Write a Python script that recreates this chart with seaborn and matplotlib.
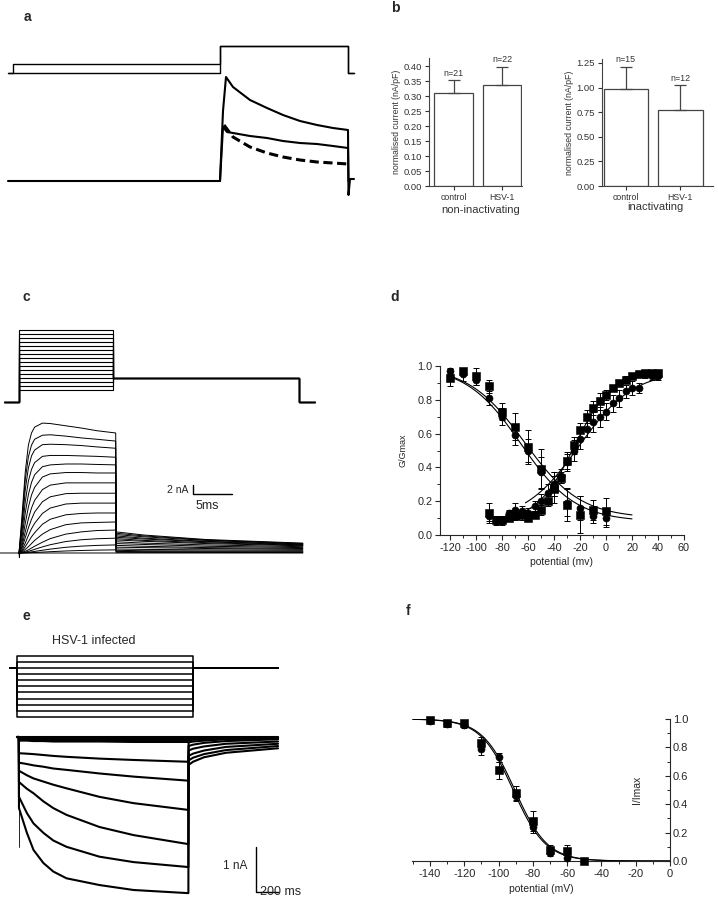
import numpy as np
import matplotlib
matplotlib.use("Agg")
import matplotlib.pyplot as plt
from matplotlib.ticker import MultipleLocator, FormatStrFormatter
import pandas as pd
import seaborn as sns

# ---------------- panel a : prepulse protocol and currents ----------------
a_cmd_t = [0, 5, 5, 212, 212, 340, 340, 346]
a_cmd_prepulse_v = [-100, -100, -60, -60, 20, 20, -100, -100]
a_cmd_hold_v = [-100, -100, -100, -100, 20, 20, -100, -100]

a_t_top = [0, 212, 215, 218, 225, 242, 259, 275, 292, 309, 325, 340, 340.5, 342, 346]
a_i_top = [0, 0, 3.5, 5.2, 4.7, 4.05, 3.65, 3.3, 3.0, 2.8, 2.65, 2.55, -0.7, 0.1, 0.1]
a_t_mid = [212, 215, 219, 225, 242, 259, 275, 292, 309, 325, 340, 340.5]
a_i_mid = [0, 2.7, 2.45, 2.4, 2.25, 2.15, 2.0, 1.9, 1.85, 1.75, 1.65, 0]
a_t_dash = [216, 225, 242, 259, 275, 292, 309, 325, 340]
a_i_dash = [2.8, 2.2, 1.7, 1.4, 1.2, 1.05, 0.95, 0.9, 0.85]

# ---------------- panel b : current densities ----------------
b_groups = ['control', 'HSV-1']
b_noninact_mean = [0.311, 0.338]
b_noninact_sem = [0.041, 0.060]
b_noninact_n = ['n=21', 'n=22']
b_inact_mean = [0.983, 0.772]
b_inact_sem = [0.229, 0.251]
b_inact_n = ['n=15', 'n=12']

# ---------------- panel c : activation family ----------------
c_hold_mv = -80
c_tail_mv = -20
c_levels_mv = [-50, -40, -30, -20, -10, 0, 10, 20, 30, 40, 50, 60, 70, 80, 90, 100]
c_cmd_t = [-1.9, 0, 0, 12, 12, 35.9, 35.9, 38]

c_t_step = [0, 0.4, 0.8, 1.2, 1.6, 2, 3, 4, 6, 8, 10, 12.4]
c_i_step = [
    [0, 8.7, 18.0, 24.0, 26.7, 28.0, 28.9, 28.8, 28.3, 27.8, 27.2, 26.7],
    [0, 7.6, 16.3, 21.4, 24.0, 25.3, 26.2, 26.3, 26.0, 25.6, 25.3, 24.9],
    [0, 6.3, 14.1, 18.9, 21.6, 22.9, 24.1, 24.2, 24.1, 23.9, 23.6, 23.3],
    [0, 4.9, 11.4, 16.0, 18.6, 20.1, 21.5, 21.7, 21.7, 21.6, 21.5, 21.3],
    [0, 3.6, 8.9, 13.0, 15.7, 17.4, 19.2, 19.6, 19.8, 19.8, 19.7, 19.6],
    [0, 2.5, 6.6, 10.2, 12.9, 14.6, 16.9, 17.6, 17.9, 17.9, 17.8, 17.8],
    [0, 1.7, 4.7, 7.6, 10.0, 11.7, 14.1, 15.1, 15.6, 15.6, 15.6, 15.6],
    [0, 1.2, 3.4, 5.6, 7.5, 9.1, 11.4, 12.5, 13.2, 13.3, 13.3, 13.3],
    [0, 0.7, 2.2, 3.9, 5.4, 6.6, 8.8, 10.0, 10.9, 11.1, 11.1, 11.1],
    [0, 0.4, 1.4, 2.5, 3.6, 4.5, 6.4, 7.5, 8.5, 8.8, 8.9, 8.9],
    [0, 0.2, 0.8, 1.4, 2.1, 2.8, 4.2, 5.2, 6.3, 6.7, 6.8, 6.9],
    [0, 0.1, 0.4, 0.7, 1.1, 1.5, 2.4, 3.2, 4.2, 4.7, 5.0, 5.1],
    [0, 0.05, 0.19, 0.37, 0.58, 0.81, 1.36, 1.84, 2.55, 2.95, 3.17, 3.3],
    [0, 0.02, 0.08, 0.15, 0.25, 0.35, 0.61, 0.86, 1.27, 1.53, 1.69, 1.8],
    [0, 0.01, 0.02, 0.05, 0.08, 0.11, 0.2, 0.29, 0.45, 0.56, 0.64, 0.7],
]
c_t_tail = [12.45, 16, 24, 36.4]
c_i_tail = [
    [4.7, 4.0, 3.0, 2.2], [4.4, 3.8, 2.9, 2.1], [4.1, 3.6, 2.8, 2.0],
    [3.8, 3.3, 2.6, 1.9], [3.5, 3.1, 2.5, 1.8], [3.2, 2.8, 2.3, 1.7],
    [2.9, 2.6, 2.1, 1.6], [2.5, 2.2, 1.8, 1.4], [2.1, 1.9, 1.5, 1.2],
    [1.7, 1.5, 1.2, 1.0], [1.3, 1.2, 1.0, 0.8], [0.9, 0.8, 0.7, 0.6],
    [0.6, 0.5, 0.45, 0.4], [0.35, 0.3, 0.28, 0.25], [0.15, 0.13, 0.12, 0.1],
]
c_base_t = [-2.44, 0, 0.05, 0.15, 0.3, 36.4]
c_base_i = [0, 0, -1.0, 1.2, 0, 0]
c_bar_nA, c_bar_ms = 2, 5

# ---------------- panel d : activation / inactivation ----------------
d_v_inact = [-120, -110, -100, -90, -80, -70, -60, -50, -40, -30, -20, -10, 0]
d_inact_sq = [0.93, 0.97, 0.94, 0.88, 0.73, 0.64, 0.52, 0.39, 0.28, 0.18, 0.12, 0.15, 0.14]
d_inact_sq_err = [0.05, 0.02, 0.05, 0.04, 0.05, 0.08, 0.10, 0.12, 0.09, 0.10, 0.11, 0.06, 0.08]
d_inact_ci = [0.97, 0.95, 0.92, 0.81, 0.70, 0.59, 0.50, 0.37, 0.29, 0.19, 0.16, 0.11, 0.10]
d_inact_ci_err = [0.02, 0.04, 0.03, 0.04, 0.05, 0.06, 0.07, 0.09, 0.06, 0.08, 0.07, 0.04, 0.05]

d_v_act = [-90, -85, -80, -75, -70, -65, -60, -55, -50, -45, -40, -35, -30, -25,
           -20, -15, -10, -5, 0, 5, 10, 15, 20, 25, 30, 35, 40]
d_act_sq = [0.13, 0.09, 0.09, 0.10, 0.11, 0.12, 0.10, 0.12, 0.15, 0.20, 0.27, 0.34, 0.44, 0.53,
            0.62, 0.70, 0.75, 0.79, 0.83, 0.87, 0.90, 0.92, 0.94, 0.95, 0.96, 0.96, 0.96]
d_act_sq_err = [0.06, 0.02, 0.02, 0.02, 0.02, 0.03, 0.02, 0.02, 0.03, 0.03, 0.04, 0.03, 0.05, 0.05,
                0.04, 0.04, 0.04, 0.05, 0.03, 0.02, 0.02, 0.02, 0.01, 0.01, 0.01, 0.01, 0.01]
d_act_ci = [0.11, 0.08, 0.08, 0.13, 0.15, 0.14, 0.13, 0.17, 0.20, 0.25, 0.30, 0.35, 0.43, 0.50,
            0.57, 0.63, 0.67, 0.70, 0.73, 0.78, 0.81, 0.85, 0.87, 0.87, 0.95, 0.94, 0.94]
d_act_ci_err = [0.03, 0.02, 0.02, 0.02, 0.04, 0.03, 0.03, 0.03, 0.04, 0.05, 0.07, 0.04, 0.05, 0.06,
                0.06, 0.05, 0.06, 0.06, 0.05, 0.05, 0.05, 0.04, 0.04, 0.03, 0.02, 0.02, 0.02]
# Boltzmann fits (V1/2, slope, bottom, top)
d_fit_inact = [(-62.8, 21.6, 0.10, 1.0), (-65.5, 21.0, 0.08, 1.0)]
d_fit_act = [(-24.4, 14.5, 0.08, 0.97), (-20.9, 21.0, 0.08, 0.97)]

# ---------------- panel e : HSV-1 infected, hyperpolarising steps ----------------
e_hold_mv = -40
e_levels_mv = [-20, -30, -40, -50, -60, -70, -80, -90, -100, -110, -120]
e_cmd_t = [-64, 0, 0, 1600, 1600, 2373]
e_t_pulse = [18, 90, 150, 240, 330, 450, 750, 1060, 1558]
e_i_pulse = [
    [0, 0, 0, 0, 0, 0, 0, 0, 0],
    [-0.02, -0.02, -0.02, -0.03, -0.03, -0.03, -0.03, -0.04, -0.04],
    [-0.04, -0.04, -0.04, -0.05, -0.05, -0.05, -0.06, -0.06, -0.06],
    [-0.06, -0.06, -0.07, -0.07, -0.07, -0.08, -0.08, -0.09, -0.09],
    [-0.08, -0.08, -0.09, -0.09, -0.1, -0.1, -0.1, -0.11, -0.11],
    [-0.36, -0.37, -0.38, -0.40, -0.42, -0.44, -0.48, -0.51, -0.55],
    [-0.57, -0.60, -0.63, -0.66, -0.70, -0.73, -0.81, -0.88, -0.97],
    [-0.75, -0.85, -0.92, -0.99, -1.06, -1.14, -1.33, -1.47, -1.62],
    [-1.00, -1.15, -1.25, -1.43, -1.58, -1.73, -2.00, -2.18, -2.38],
    [-1.33, -1.69, -1.92, -2.13, -2.30, -2.44, -2.66, -2.78, -2.89],
    [-1.58, -2.13, -2.51, -2.80, -2.99, -3.14, -3.29, -3.40, -3.47],
]
e_t_tail = [1560, 1600, 1700, 1900, 2373]
e_i_tail = [
    [0, 0, 0, 0, 0],
    [-0.02, -0.02, -0.02, -0.01, -0.01],
    [-0.04, -0.03, -0.03, -0.02, -0.02],
    [-0.05, -0.05, -0.04, -0.03, -0.02],
    [-0.07, -0.06, -0.05, -0.04, -0.03],
    [-0.12, -0.10, -0.08, -0.05, -0.02],
    [-0.20, -0.17, -0.13, -0.09, -0.05],
    [-0.30, -0.26, -0.21, -0.15, -0.10],
    [-0.42, -0.37, -0.30, -0.22, -0.15],
    [-0.52, -0.46, -0.38, -0.29, -0.20],
    [-0.62, -0.55, -0.45, -0.35, -0.25],
]
e_spike_t, e_spike_i = 19, -2.45
e_bar_nA, e_bar_ms = 1, 200

# ---------------- panel f : steady-state activation ----------------
f_v_sq = [-140, -130, -120, -110, -100, -90, -80, -70, -60, -50]
f_sq = [0.99, 0.975, 0.975, 0.83, 0.64, 0.48, 0.28, 0.08, 0.07, 0.0]
f_sq_err = [0.01, 0.02, 0.02, 0.04, 0.06, 0.05, 0.07, 0.03, 0.04, 0.01]
f_v_ci = [-140, -130, -120, -110, -100, -90, -80, -70, -60]
f_ci = [0.985, 0.965, 0.955, 0.79, 0.73, 0.46, 0.24, 0.055, 0.02]
f_ci_err = [0.01, 0.02, 0.02, 0.04, 0.03, 0.04, 0.04, 0.02, 0.02]
f_fits = [(-91.5, 9.5), (-90.5, 9.5)]

# ---------------- drawing ----------------
sns.set_theme(style="ticks")
plt.rcParams['font.family'] = ['Liberation Sans', 'DejaVu Sans']
plt.rcParams['axes.linewidth'] = 0.8
plt.rcParams['axes.unicode_minus'] = False

W, H = 718, 899
fig = plt.figure(figsize=(W / 100, H / 100), dpi=100)


def px_axes(x0, y0, x1, y1):
    return fig.add_axes([x0 / W, 1 - y1 / H, (x1 - x0) / W, (y1 - y0) / H])


def draw_traces(ax, traces, lw):
    df = pd.concat([pd.DataFrame({'t': t, 'y': y, 'unit': k}) for k, (t, y) in enumerate(traces)])
    sns.lineplot(data=df, x='t', y='y', units='unit', estimator=None, sort=False,
                 color='black', linewidth=lw, ax=ax, legend=False)


# panel a
ax = px_axes(0, 40, 360, 80)
draw_traces(ax, [(a_cmd_t, a_cmd_prepulse_v), (a_cmd_t, a_cmd_hold_v)], 1.0)
ax.set_xlim(-8, 352)
ax.set_ylim(-131.1, 46.5)
ax.axis('off')

ax = px_axes(0, 70, 360, 205)
sns.lineplot(x=a_t_top, y=a_i_top, sort=False, color='black', linewidth=1.5, ax=ax)
sns.lineplot(x=a_t_mid, y=a_i_mid, sort=False, color='black', linewidth=1.5, ax=ax)
sns.lineplot(x=a_t_dash, y=a_i_dash, sort=False, color='black', linewidth=2.2,
             linestyle=(0, (3, 1.5)), ax=ax)
ax.set_xlim(-8, 352)
ax.set_ylim(-1.2, 5.55)
ax.axis('off')


# panel b
def bar_panel(rect, means, sems, ns, ymax, ystep, xlim, width, xlabel, xlabel_xy):
    ax = px_axes(*rect)
    df = pd.DataFrame({'group': b_groups, 'current': means})
    sns.barplot(data=df, x='group', y='current', color='white', edgecolor='#444444',
                linewidth=0.9, width=width, errorbar=None, ax=ax)
    ax.errorbar([0, 1], means, yerr=[[0, 0], sems], fmt='none', ecolor='#444444',
                elinewidth=0.9, capsize=4.5, capthick=0.9, zorder=3)
    for i in range(2):
        ax.annotate(ns[i], (i, means[i] + sems[i]), xytext=(0, 2), textcoords='offset points',
                    ha='center', va='bottom', fontsize=6.4, color='#333333')
    ax.set_xlim(*xlim)
    ax.set_ylim(0, ymax)
    ax.yaxis.set_major_locator(MultipleLocator(ystep))
    ax.yaxis.set_major_formatter(FormatStrFormatter('%.2f'))
    ax.tick_params(axis='y', labelsize=6.8, length=3, width=0.8, pad=2, colors='#333333')
    ax.tick_params(axis='x', labelsize=6.3, length=3, width=0.8, pad=2, colors='#333333')
    ax.set_ylabel('normalised current (nA/pF)', fontsize=6.3, labelpad=2, color='#333333')
    ax.set_xlabel(xlabel, fontsize=8, color='#333333')
    ax.xaxis.set_label_coords(*xlabel_xy)
    for s in ax.spines.values():
        s.set_color('#444444')
    sns.despine(ax=ax)


bar_panel((429, 58, 522, 186), b_noninact_mean, b_noninact_sem, b_noninact_n,
          0.427, 0.05, (-0.505, 1.406), 0.79, 'non-inactivating', (0.56, -0.148))
bar_panel((602, 59, 713, 186), b_inact_mean, b_inact_sem, b_inact_n,
          1.29, 0.25, (-0.44, 1.6), 0.82, 'inactivating', (0.477, -0.124))

# panel c
ax = px_axes(0, 320, 320, 410)
cmd_traces = [(c_cmd_t, [c_hold_mv, c_hold_mv, lv, lv, c_tail_mv, c_tail_mv, c_hold_mv, c_hold_mv])
              for lv in c_levels_mv]
draw_traces(ax, cmd_traces, 0.8)
ax.set_xlim(-2.44, 38.6)
ax.set_ylim(-100, 125)
ax.axis('off')

ax = px_axes(0, 415, 320, 565)
cur_traces = [(c_base_t, c_base_i)]
for step, tail in zip(c_i_step, c_i_tail):
    cur_traces.append((c_t_step + c_t_tail, step + tail))
draw_traces(ax, cur_traces, 0.7)
bx, by = 22.3, 13.1
ax.plot([bx, bx, bx + c_bar_ms], [by + c_bar_nA, by, by], color='black', lw=1.0)
ax.text(bx - 0.6, by + c_bar_nA / 2, '2 nA', ha='right', va='center', fontsize=7.5)
ax.text(bx + 1.9, by - 2.7, '5ms', ha='center', va='center', fontsize=9)
ax.set_xlim(-2.44, 38.6)
ax.set_ylim(-2.67, 30.7)
ax.axis('off')

# panel d
ax = px_axes(440, 366, 684, 535)
for v, g, err, mk in [(d_v_inact, d_inact_sq, d_inact_sq_err, 's'),
                      (d_v_inact, d_inact_ci, d_inact_ci_err, 'o'),
                      (d_v_act, d_act_sq, d_act_sq_err, 's'),
                      (d_v_act, d_act_ci, d_act_ci_err, 'o')]:
    ax.errorbar(v, g, yerr=err, fmt='none', ecolor='black', elinewidth=0.7,
                capsize=2.5, capthick=0.7, zorder=2)
    sns.scatterplot(x=v, y=g, marker=mk, s=26, color='black', edgecolor='black',
                    ax=ax, zorder=3, clip_on=False)
v_in = np.linspace(-120, 20, 200)
for vh, k, bot, top in d_fit_inact:
    sns.lineplot(x=v_in, y=bot + (top - bot) / (1 + np.exp((v_in - vh) / k)),
                 color='black', linewidth=0.8, ax=ax)
v_ac = np.linspace(-62, 40, 200)
for vh, k, bot, top in d_fit_act:
    sns.lineplot(x=v_ac, y=bot + (top - bot) / (1 + np.exp((vh - v_ac) / k)),
                 color='black', linewidth=0.8, ax=ax)
ax.set_xlim(-127.7, 60)
ax.set_ylim(0, 1.0)
ax.xaxis.set_major_locator(MultipleLocator(20))
ax.xaxis.set_minor_locator(MultipleLocator(10))
ax.yaxis.set_major_locator(MultipleLocator(0.2))
ax.yaxis.set_minor_locator(MultipleLocator(0.1))
ax.yaxis.set_major_formatter(FormatStrFormatter('%.1f'))
ax.tick_params(which='major', labelsize=7.8, length=3.5, width=0.8, pad=2)
ax.tick_params(which='minor', length=2, width=0.7)
ax.set_xlabel('potential (mv)', fontsize=7.5, labelpad=3)
ax.set_ylabel('G/Gmax', fontsize=6.5, labelpad=7)
sns.despine(ax=ax)

# panel e
ax = px_axes(0, 645, 320, 725)
cmd_traces = [(e_cmd_t, [e_hold_mv, e_hold_mv, lv, lv, e_hold_mv, e_hold_mv]) for lv in e_levels_mv]
draw_traces(ax, cmd_traces, 1.1)
ax.set_xlim(-154.5, 2754.5)
ax.set_ylim(-133.4, -2.3)
ax.axis('off')

ax = px_axes(0, 730, 320, 899)
cur_traces = []
for pulse, tail in zip(e_i_pulse, e_i_tail):
    cur_traces.append(([0, 17] + e_t_pulse + e_t_tail, [0, 0] + pulse + tail))
draw_traces(ax, cur_traces, 1.5)
ax.plot([e_spike_t, e_spike_t], [0, e_spike_i], color='black', lw=0.6)
bx, by = 2173, -3.44
ax.plot([bx, bx, bx + e_bar_ms], [by + e_bar_nA, by, by], color='black', lw=1.0)
ax.text(bx - 80, by + 0.57, '1 nA', ha='right', va='center', fontsize=8.6)
ax.text(bx + 36, -3.585, '200 ms', ha='left', va='bottom', fontsize=9)
ax.set_xlim(-154.5, 2754.5)
ax.set_ylim(-3.6, 0.156)
ax.axis('off')
fig.text(52 / W, 1 - 641 / H, 'HSV-1 infected', ha='left', va='center', fontsize=9)

# panel f
ax = px_axes(412, 719, 670, 861)
for v, g, err, mk in [(f_v_sq, f_sq, f_sq_err, 's'), (f_v_ci, f_ci, f_ci_err, 'o')]:
    ax.errorbar(v, g, yerr=err, fmt='none', ecolor='black', elinewidth=0.7,
                capsize=2.5, capthick=0.7, zorder=2)
    sns.scatterplot(x=v, y=g, marker=mk, s=26, color='black', edgecolor='black',
                    ax=ax, zorder=3, clip_on=False)
v_f = np.linspace(-150, 0, 300)
for vh, k in f_fits:
    sns.lineplot(x=v_f, y=1 / (1 + np.exp((v_f - vh) / k)), color='black', linewidth=0.8, ax=ax)
ax.set_xlim(-150.5, 0)
ax.set_ylim(0, 1.0)
ax.spines['left'].set_visible(False)
ax.spines['top'].set_visible(False)
ax.yaxis.tick_right()
ax.xaxis.set_major_locator(MultipleLocator(20))
ax.xaxis.set_minor_locator(MultipleLocator(10))
ax.yaxis.set_major_locator(MultipleLocator(0.2))
ax.yaxis.set_minor_locator(MultipleLocator(0.1))
ax.yaxis.set_major_formatter(FormatStrFormatter('%.1f'))
ax.tick_params(which='major', labelsize=8, length=3.5, width=0.8, pad=2)
ax.tick_params(which='minor', length=2, width=0.7)
ax.tick_params(axis='y', which='both', direction='in')
ax.set_xlabel('potential (mV)', fontsize=7.5, labelpad=4)
ax.set_ylabel('I/Imax', fontsize=7.5)
ax.yaxis.set_label_position('left')
ax.yaxis.set_label_coords(0.891, 0.5)

# panel letters
for lab, x, y in [('a', 27, 17), ('b', 395, 8), ('c', 26, 297), ('d', 395, 297),
                  ('e', 26, 616), ('f', 408, 611)]:
    fig.text(x / W, 1 - y / H, lab, ha='center', va='center', fontsize=10, fontweight='bold')

fig.savefig('out.png', dpi=100)
